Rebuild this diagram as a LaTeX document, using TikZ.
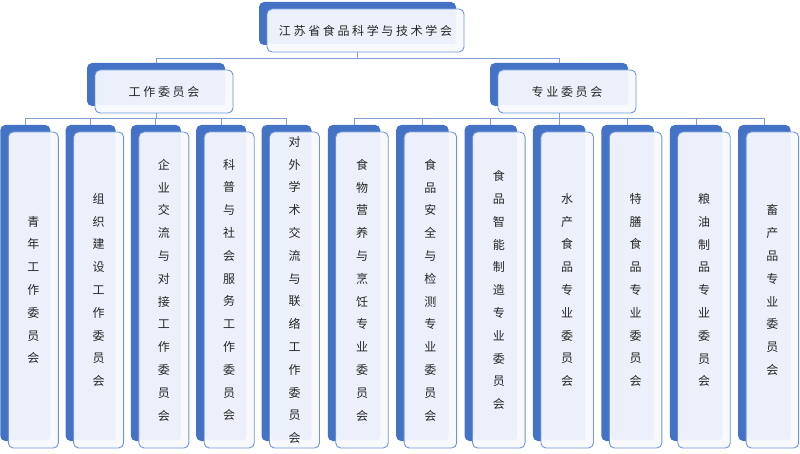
\documentclass[tikz,border=0pt]{standalone}
\usepackage{fontspec}
\newfontfamily\cjk{Noto Sans CJK SC}
\usetikzlibrary{positioning}

\definecolor{backblue}{HTML}{4472C4}
\definecolor{edgeblue}{HTML}{6F95D6}
\definecolor{linkblue}{HTML}{7F9FD3}
\definecolor{paleface}{HTML}{F8F9FD}
\definecolor{innerface}{HTML}{EBF0FA}
\definecolor{inktext}{HTML}{262626}

\tikzset{
  backbox/.style={fill=backblue, rounded corners=5pt, inner sep=0pt},
  frontbox/.style={draw=edgeblue, line width=0.9pt, fill=paleface, rounded corners=5pt,
    inner sep=0pt, align=center, text=inktext,
    font=\cjk\fontsize{12}{22.8}\selectfont,
    path picture={\fill[innerface, rounded corners=3pt]
      ([shift={(1pt,-1pt)}]path picture bounding box.north west) rectangle
      ([shift={(-8pt,8pt)}]path picture bounding box.south east);}},
  wide/.style={font=\cjk\fontsize{12}{14}\selectfont\addfontfeature{LetterSpace=22}},
  link/.style={draw=linkblue, line width=0.9pt}
}

\begin{document}
\begin{tikzpicture}[x=1pt, y=-1pt]
\useasboundingbox (0,0) rectangle (800,454);

% society
\node[backbox, minimum width=197pt, minimum height=43pt] (rootb) at (357.5,23.5) {};
\node[frontbox, wide, minimum width=197pt, minimum height=43pt] (root) at (365.5,30.5) {江苏省食品科学与技术学会};

% two branches
\node[backbox, minimum width=138pt, minimum height=43pt] (workb) at (156,84.5) {};
\node[frontbox, wide, minimum width=138pt, minimum height=43pt] (work) at (164,91.5) {工作委员会};
\node[backbox, minimum width=138pt, minimum height=43pt] (profb) at (559,84.5) {};
\node[frontbox, wide, minimum width=138pt, minimum height=43pt] (prof) at (567,91.5) {专业委员会};

% working committees
\foreach \nm/\cx/\txt in {
  youth/33.3/{青\\年\\工\\作\\委\\员\\会},
  org/98.6/{组\\织\\建\\设\\工\\作\\委\\员\\会},
  firm/163.9/{企\\业\\交\\流\\与\\对\\接\\工\\作\\委\\员\\会},
  sci/229.2/{科\\普\\与\\社\\会\\服\\务\\工\\作\\委\\员\\会},
  intl/294.5/{对\\外\\学\\术\\交\\流\\与\\联\\络\\工\\作\\委\\员\\会}}{
  \node[backbox, minimum width=50pt, minimum height=316pt] (\nm b) at (\cx-8,283) {};
  \node[frontbox, minimum width=50pt, minimum height=316pt] (\nm) at (\cx,290) {\txt};
}

% professional committees
\foreach \nm/\cx/\txt in {
  nutri/362/{食\\物\\营\\养\\与\\烹\\饪\\专\\业\\委\\员\\会},
  safe/430.4/{食\\品\\安\\全\\与\\检\\测\\专\\业\\委\\员\\会},
  smart/498.8/{食\\品\\智\\能\\制\\造\\专\\业\\委\\员\\会},
  aqua/567.2/{水\\产\\食\\品\\专\\业\\委\\员\\会},
  diet/635.6/{特\\膳\\食\\品\\专\\业\\委\\员\\会},
  grain/704/{粮\\油\\制\\品\\专\\业\\委\\员\\会},
  stock/772.4/{畜\\产\\品\\专\\业\\委\\员\\会}}{
  \node[backbox, minimum width=52.5pt, minimum height=316pt] (\nm b) at (\cx-8,283) {};
  \node[frontbox, minimum width=52.5pt, minimum height=316pt] (\nm) at (\cx,290) {\txt};
}

% connectors
\draw[link] (rootb.north |- root.south) -- ++(0,6) coordinate (bus0);
\draw[link] (workb.north) |- (bus0) -| (profb.north);
\draw[link] (workb.north |- work.south) -- ++(0,5) coordinate (busL);
\draw[link] (profb.north |- prof.south) -- ++(0,5) coordinate (busR);
\foreach \nm in {youth,org,firm,sci,intl}
  \draw[link] (\nm b.north) |- (busL);
\foreach \nm in {nutri,safe,smart,aqua,diet,grain,stock}
  \draw[link] (\nm b.north) |- (busR);
\end{tikzpicture}
\end{document}
